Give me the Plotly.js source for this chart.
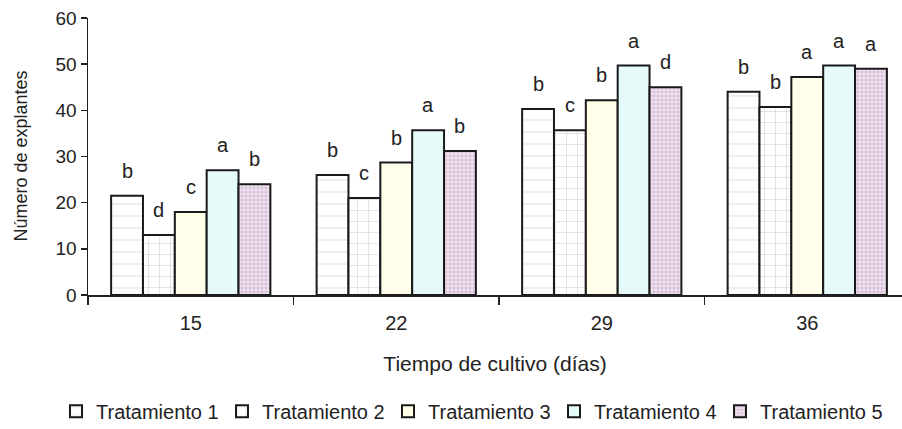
<!DOCTYPE html>
<html>
<head>
<meta charset="utf-8">
<script src="https://cdn.plot.ly/plotly-3.0.1.min.js"></script>
<style>html,body{margin:0;padding:0;background:#fff;}#chart{width:902px;height:429px;}</style>
</head>
<body>
<div id="chart"></div>
<script>
const categories = ["15", "22", "29", "36"];
const seriesNames = ["Tratamiento 1", "Tratamiento 2", "Tratamiento 3", "Tratamiento 4", "Tratamiento 5"];
const t1 = [21.5, 26.0, 40.3, 44.0];
const t2 = [13.0, 21.0, 35.7, 40.7];
const t3 = [18.0, 28.7, 42.2, 47.2];
const t4 = [27.0, 35.7, 49.7, 49.7];
const t5 = [24.0, 31.2, 45.0, 49.0];
const l1 = ["b", "b", "b", "b"];
const l2 = ["d", "c", "c", "b"];
const l3 = ["c", "b", "b", "a"];
const l4 = ["a", "a", "a", "a"];
const l5 = ["b", "b", "d", "a"];
const xTitle = "Tiempo de cultivo (días)";
const yTitle = "Número de explantes";

const values = [t1, t2, t3, t4, t5];
const letters = [l1, l2, l3, l4, l5];
const styles = [
  {color: "#ffffff", pattern: {shape: "-", fgcolor: "#dcdcdc", bgcolor: "#ffffff", size: 12, solidity: 0.08}},
  {color: "#ffffff", pattern: {shape: "+", fgcolor: "#dcc8e0", bgcolor: "#ffffff", size: 11, solidity: 0.1}},
  {color: "#ffffea"},
  {color: "#e6fafa"},
  {color: "#ecdcec", pattern: {shape: "+", fgcolor: "#c8a8cc", bgcolor: "#f2e6f0", size: 4, solidity: 0.3}}
];

const BARGAP = 0.225;
const nSeries = values.length;
const barW = (1 - BARGAP) / nSeries;

const traces = values.map((v, i) => ({
  type: "bar",
  name: seriesNames[i],
  x: categories,
  y: v,
  legend: i < 4 ? "legend" : "legend2",
  marker: Object.assign({line: {color: "#1a1a1a", width: 2}}, styles[i]),
  hoverinfo: "skip"
}));

const annotations = [];
values.forEach((v, i) => {
  v.forEach((val, j) => {
    annotations.push({
      x: j + (i - (nSeries - 1) / 2) * barW,
      y: val,
      xref: "x", yref: "y",
      text: letters[i][j],
      showarrow: false,
      yanchor: "bottom",
      yshift: 12,
      font: {family: "Liberation Sans, Arial, sans-serif", size: 20, color: "#222"}
    });
  });
});
annotations.push({
  text: yTitle,
  xref: "paper", yref: "paper",
  x: -68 / 814, y: 0.5,
  xanchor: "center", yanchor: "middle",
  textangle: -90,
  showarrow: false,
  font: {family: "Liberation Sans, Arial, sans-serif", size: 18, color: "#222"}
});

const legendCommon = {
  orientation: "h",
  xref: "container", xanchor: "left",
  y: -0.42, yanchor: "middle",
  font: {size: 20, color: "#222"},
  itemwidth: 30,
  entrywidth: 121,
  bgcolor: "rgba(0,0,0,0)"
};

const layout = {
  width: 902, height: 429,
  margin: {l: 88, r: 0, t: 18, b: 134, autoexpand: false},
  paper_bgcolor: "#ffffff",
  plot_bgcolor: "#ffffff",
  font: {family: "Liberation Sans, Arial, sans-serif", size: 20, color: "#222"},
  barmode: "group",
  bargap: BARGAP,
  bargroupgap: 0,
  xaxis: {
    type: "category",
    range: [-0.5, 3.461],
    showline: true, linecolor: "#222", linewidth: 1.5,
    ticks: "outside", tickson: "boundaries", ticklen: 8, tickcolor: "#222", tickwidth: 1.5,
    showgrid: false, zeroline: false,
    tickfont: {size: 20},
    ticklabelstandoff: 9,
    title: {text: xTitle, font: {size: 21}, standoff: 24}
  },
  yaxis: {
    range: [0, 60],
    dtick: 10,
    showline: true, linecolor: "#222", linewidth: 1.5,
    ticks: "outside", ticklen: 6, tickcolor: "#222", tickwidth: 1.5,
    showgrid: false, zeroline: false,
    tickfont: {size: 19}
  },
  showlegend: true,
  legend: Object.assign({}, legendCommon, {x: 56 / 902}),
  legend2: Object.assign({}, legendCommon, {x: (56 + 4 * 166) / 902}),
  annotations: annotations
};

Plotly.newPlot("chart", traces, layout, {displayModeBar: false, staticPlot: true});
</script>
</body>
</html>
